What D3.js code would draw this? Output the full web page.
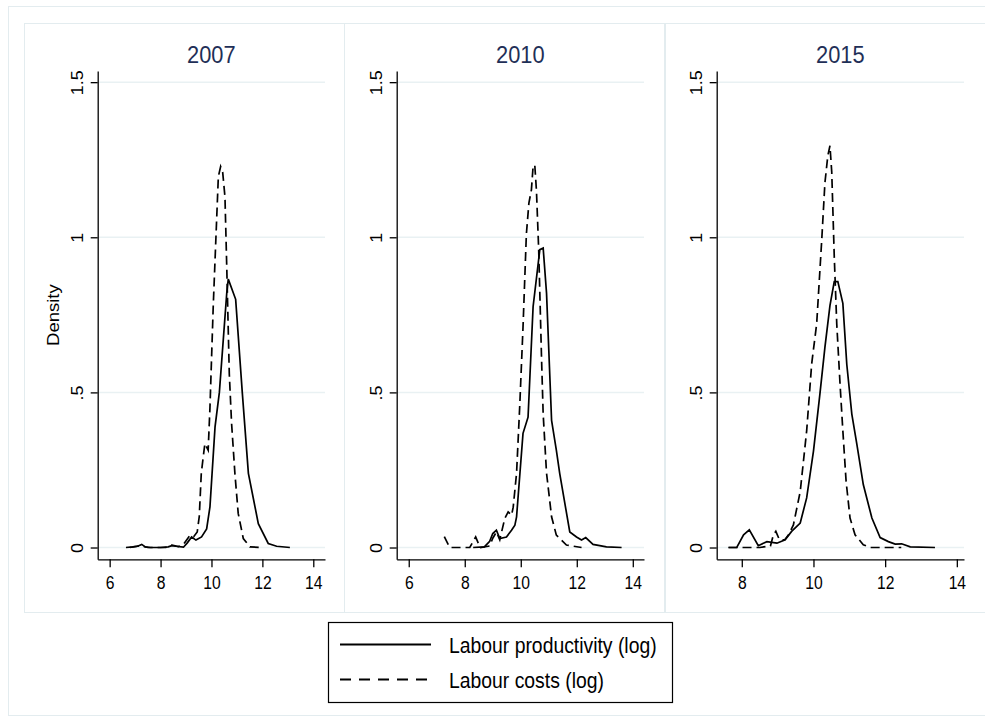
<!DOCTYPE html>
<html>
<head>
<meta charset="utf-8">
<script src="https://cdn.jsdelivr.net/npm/d3@7"></script>
<style>
  body { margin: 0; background: #fff; }
  text { font-family: "Liberation Sans", Arial, Helvetica, sans-serif; }
</style>
</head>
<body>
<div id="chart"></div>
<script>
// kernel density curves
const years = ["2007", "2010", "2015"]
const seriesNames = ["Labour productivity (log)", "Labour costs (log)"]

const prod2007 = [[6.64,0],[6.9,0.002],[7.1,0.004],[7.26,0.01],[7.4,0.002],[7.6,0],[8.0,0],[8.3,0.002],[8.44,0.006],[8.6,0.004],[8.9,0.001],[9.05,0.015],[9.22,0.034],[9.39,0.024],[9.61,0.034],[9.81,0.06],[9.94,0.131],[10.14,0.389],[10.31,0.5],[10.6,0.82],[10.66,0.865],[10.95,0.8],[11.21,0.5],[11.45,0.239],[11.84,0.077],[12.23,0.013],[12.56,0.004],[13.08,0]]
const cost2007 = [[6.8,0],[7.2,0.006],[7.5,0],[8.2,0],[8.45,0.008],[8.7,0.003],[8.9,0.01],[9.16,0.04],[9.3,0.035],[9.44,0.05],[9.52,0.1],[9.6,0.24],[9.74,0.335],[9.87,0.314],[9.94,0.45],[10.07,0.78],[10.18,1.01],[10.27,1.196],[10.36,1.228],[10.44,1.21],[10.53,1.13],[10.6,0.905],[10.7,0.56],[10.79,0.4],[10.92,0.239],[11.05,0.11],[11.25,0.029],[11.51,0.002],[11.97,0]]

const prod2010 = [[8.3,0],[8.7,0.002],[8.89,0.02],[9.0,0.045],[9.13,0.056],[9.25,0.029],[9.49,0.034],[9.67,0.056],[9.79,0.072],[9.85,0.099],[10.08,0.368],[10.26,0.42],[10.44,0.776],[10.68,0.96],[10.8,0.965],[10.92,0.82],[11.1,0.41],[11.27,0.314],[11.39,0.239],[11.75,0.05],[11.99,0.034],[12.17,0.024],[12.32,0.032],[12.58,0.01],[13.06,0.002],[13.6,0]]
const cost2010 = [[7.27,0.035],[7.46,0],[7.7,0],[8.18,0],[8.3,0.02],[8.39,0.034],[8.5,0.01],[8.57,0],[8.89,0.005],[9.0,0.03],[9.13,0.05],[9.25,0.025],[9.43,0.094],[9.55,0.115],[9.67,0.104],[9.73,0.13],[9.85,0.24],[9.96,0.45],[10.08,0.71],[10.2,1.01],[10.29,1.11],[10.38,1.153],[10.44,1.228],[10.5,1.233],[10.56,1.15],[10.64,0.96],[10.74,0.615],[10.8,0.43],[10.92,0.24],[11.1,0.099],[11.27,0.04],[11.63,0.008],[12.17,0]]

const prod2015 = [[7.63,0],[7.86,0],[8.05,0.041],[8.21,0.057],[8.46,0.006],[8.7,0.019],[8.98,0.014],[9.21,0.025],[9.39,0.052],[9.63,0.079],[9.81,0.16],[10.0,0.311],[10.18,0.495],[10.32,0.646],[10.46,0.78],[10.58,0.857],[10.68,0.857],[10.82,0.787],[10.93,0.59],[11.07,0.43],[11.21,0.333],[11.39,0.203],[11.63,0.095],[11.86,0.032],[12.09,0.019],[12.28,0.011],[12.46,0.012],[12.7,0.002],[13.39,0]]
const cost2015 = [[7.63,0],[8.22,0],[8.5,0],[8.8,0.005],[8.88,0.04],[8.95,0.052],[9.05,0.025],[9.2,0.025],[9.3,0.04],[9.44,0.073],[9.63,0.18],[9.81,0.376],[9.95,0.592],[10.09,0.722],[10.23,0.99],[10.32,1.176],[10.4,1.263],[10.46,1.295],[10.51,1.21],[10.58,0.938],[10.65,0.72],[10.74,0.53],[10.82,0.376],[10.91,0.214],[11.02,0.095],[11.16,0.041],[11.39,0.009],[11.58,0],[12.45,0]]

const xDomains = [[5.53, 14.46], [5.57, 14.4], [7.3, 14.2]]
const xTicks = [[6, 8, 10, 12, 14], [6, 8, 10, 12, 14], [8, 10, 12, 14]]
const yTicks = [0, 0.5, 1, 1.5]
const yTickLabels = ["0", ".5", "1", "1.5"]

const prodSeries = [prod2007, prod2010, prod2015]
const costSeries = [cost2007, cost2010, cost2015]

// layout
const width = 985, height = 722
const panelLeft = [24, 344, 665], panelW = 320
const plotLeft = [97.7, 396.7, 716.7], plotRight = [325, 644, 964]
const plotTop = 71, plotBottom = 559.3
const frameCol = "#e3ecef", gridCol = "#e9f1f3", titleCol = "#1f2f57"
const sx = 0.87
const tickFont = 18

const svg = d3.select("#chart").append("svg")
  .attr("width", width).attr("height", height)

svg.append("rect").attr("x", 8.5).attr("y", 6.5).attr("width", 990).attr("height", 709)
  .attr("fill", "#fff").attr("stroke", frameCol)

const y = d3.scaleLinear().domain([-0.038, 1.536]).range([plotBottom, plotTop])

years.forEach((yr, i) => {
  svg.append("rect")
    .attr("x", panelLeft[i] + 0.5).attr("y", 23.5)
    .attr("width", panelW).attr("height", 589)
    .attr("fill", "#fff").attr("stroke", frameCol)

  const x = d3.scaleLinear().domain(xDomains[i]).range([plotLeft[i], plotRight[i]])
  const g = svg.append("g")

  // grid
  g.selectAll(".grid").data(yTicks).enter().append("line")
    .attr("x1", plotLeft[i]).attr("x2", plotRight[i])
    .attr("y1", d => y(d)).attr("y2", d => y(d))
    .attr("stroke", gridCol).attr("stroke-width", 1.5)

  // title
  g.append("text")
    .attr("transform", `translate(${(plotLeft[i] + plotRight[i]) / 2},63.3) scale(0.95,1)`)
    .attr("text-anchor", "middle").attr("font-size", 23).attr("fill", titleCol)
    .text(yr)

  const line = d3.line().x(d => x(d[0])).y(d => y(d[1]))

  g.append("path").datum(prodSeries[i]).attr("d", line)
    .attr("fill", "none").attr("stroke", "#000").attr("stroke-width", 1.7)
  g.append("path").datum(costSeries[i]).attr("d", line)
    .attr("fill", "none").attr("stroke", "#000").attr("stroke-width", 1.7)
    .attr("stroke-dasharray", "9,5")

  // axes
  const ax = g.append("g").attr("transform", `translate(0,${plotBottom})`)
    .call(d3.axisBottom(x).tickValues(xTicks[i]).tickFormat(d3.format("d")).tickSize(8).tickSizeOuter(0))
  ax.selectAll("text").attr("y", 30).attr("dy", 0)
    .attr("transform", `scale(${sx},1)`).style("font-size", tickFont + "px").attr("fill", "#000")

  const ay = g.append("g").attr("transform", `translate(${plotLeft[i]},0)`)
    .call(d3.axisLeft(y).tickValues(yTicks).tickFormat((d, k) => yTickLabels[k]).tickSize(7).tickSizeOuter(0))
  ay.selectAll("text").attr("x", 0).attr("dy", 0).attr("text-anchor", "middle")
    .attr("transform", `translate(-15,0) scale(${sx},1) rotate(-90)`)
    .style("font-size", tickFont + "px").attr("fill", "#000")

  ;[ax, ay].forEach(a => {
    a.select(".domain").attr("stroke", "#000").attr("stroke-width", 1.3)
    a.selectAll(".tick line").attr("stroke", "#000").attr("stroke-width", 1.3)
  })

  if (i === 0) {
    g.append("text")
      .attr("transform", `translate(59,${(plotTop + plotBottom) / 2}) scale(${sx},1) rotate(-90)`)
      .attr("text-anchor", "middle").style("font-size", "18.5px").attr("fill", "#000")
      .text("Density")
  }
})

// legend
const leg = svg.append("g")
leg.append("rect").attr("x", 328.5).attr("y", 622.5).attr("width", 344).attr("height", 80)
  .attr("fill", "#fff").attr("stroke", "#000").attr("stroke-width", 1.2)
const legY = [644.5, 679.5]
const legDash = [null, "11,8"]
seriesNames.forEach((name, k) => {
  leg.append("line").attr("x1", 340).attr("x2", 431).attr("y1", legY[k]).attr("y2", legY[k])
    .attr("stroke", "#000").attr("stroke-width", 2).attr("stroke-dasharray", legDash[k])
  leg.append("text")
    .attr("transform", `translate(449,${legY[k] + 8}) scale(0.88,1)`)
    .attr("font-size", 22).attr("fill", "#000")
    .text(name)
})
</script>
</body>
</html>
